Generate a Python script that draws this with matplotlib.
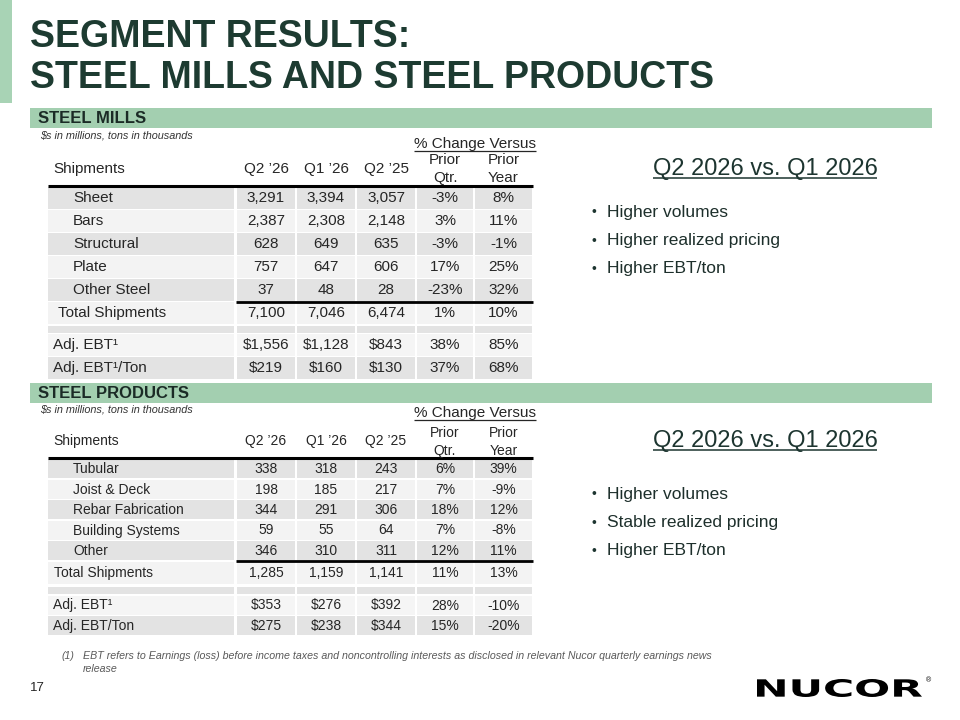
import matplotlib.pyplot as plt
from matplotlib.patches import Rectangle, PathPatch
from matplotlib.textpath import TextPath
from matplotlib.font_manager import FontProperties
from matplotlib.transforms import Affine2D

plt.rcParams['font.family'] = ['Liberation Sans', 'DejaVu Sans']

# ---- data ----
title_lines = ["SEGMENT RESULTS:", "STEEL MILLS AND STEEL PRODUCTS"]
units_note = "$s in millions, tons in thousands"
col_headers = ["Q2 \u201926", "Q1 \u201926", "Q2 \u201925"]
change_top = ["Prior", "Prior"]
change_bottom = ["Qtr.", "Year"]
compare_title = "Q2 2026 vs. Q1 2026"

mills_rows = ["Sheet", "Bars", "Structural", "Plate", "Other Steel"]
mills_q2_26 = [3291, 2387, 628, 757, 37]
mills_q1_26 = [3394, 2308, 649, 647, 48]
mills_q2_25 = [3057, 2148, 635, 606, 28]
mills_vs_qtr = [-3, 3, -3, 17, -23]
mills_vs_year = [8, 11, -1, 25, 32]
mills_total = [7100, 7046, 6474]
mills_total_chg = [1, 10]
mills_ebt = [1556, 1128, 843]
mills_ebt_chg = [38, 85]
mills_ebt_ton = [219, 160, 130]
mills_ebt_ton_chg = [37, 68]
mills_bullets = ["Higher volumes", "Higher realized pricing", "Higher EBT/ton"]

prod_rows = ["Tubular", "Joist & Deck", "Rebar Fabrication", "Building Systems", "Other"]
prod_q2_26 = [338, 198, 344, 59, 346]
prod_q1_26 = [318, 185, 291, 55, 310]
prod_q2_25 = [243, 217, 306, 64, 311]
prod_vs_qtr = [6, 7, 18, 7, 12]
prod_vs_year = [39, -9, 12, -8, 11]
prod_total = [1285, 1159, 1141]
prod_total_chg = [11, 13]
prod_ebt = [353, 276, 392]
prod_ebt_chg = [28, -10]
prod_ebt_ton = [275, 238, 344]
prod_ebt_ton_chg = [15, -20]
prod_bullets = ["Higher volumes", "Stable realized pricing", "Higher EBT/ton"]

footnote = ("EBT refers to Earnings (loss) before income taxes and noncontrolling "
            "interests as disclosed in relevant Nucor quarterly earnings news")

# ---- styles ----
GREEN = '#a3cfb0'
DARK = '#1d3b31'
TXT = '#262626'
GRAY = '#e3e3e3'
LIGHT = '#f3f3f3'

fig = plt.figure(figsize=(9.6, 7.2), dpi=100)
ax = fig.add_axes([0, 0, 1, 1])
ax.set_xlim(0, 960)
ax.set_ylim(720, 0)
ax.axis('off')
renderer = fig.canvas.get_renderer()


def underline(t, dy, color, lw=1.0):
    bb = t.get_window_extent(renderer)
    inv = ax.transData.inverted()
    (x0, _), (x1, _) = inv.transform([[bb.x0, bb.y0], [bb.x1, bb.y1]])
    ax.plot([x0, x1], [t.get_position()[1] + dy] * 2, color=color, lw=lw,
            solid_capstyle='butt')


# slide header
ax.add_patch(Rectangle((0, 0), 12, 103, color='#a8d3b5', lw=0))
for i, line in enumerate(title_lines):
    ax.text(30, 37 + i * 41, line, fontsize=27, fontweight='bold',
            color=DARK, va='center', ha='left')

label_l, label_r = 48, 234
col_edges = [236, 296, 356, 416, 474, 533]


def pct(v):
    return f"{v}%"


def draw_section(name, band_top, hdr_line, pitch, fs, rows, q2_26, q1_26, q2_25,
                 vs_qtr, vs_year, total, total_chg, ebt, ebt_chg, ebt_ton,
                 ebt_ton_chg, ebt_ton_label, bullets, total_h, gap_after_total,
                 hdr_off, total_x, bullet_y0):
    # green band
    ax.add_patch(Rectangle((30, band_top), 902, 20, color=GREEN, lw=0))
    ax.text(38, band_top + 10.5, name, fontsize=12, fontweight='bold',
            color='#1b2b26', va='center')
    ax.text(40, band_top + 27, units_note, fontsize=7.8, style='italic',
            color='#333333', va='center')

    # header
    t = ax.text((col_edges[3] + col_edges[5]) / 2, hdr_line - hdr_off[0], "% Change Versus",
                fontsize=11, color=TXT, ha='center', va='baseline')
    underline(t, 3, TXT, 0.9)
    ax.text(53, hdr_line - 17, "Shipments", fontsize=fs, color=TXT, va='center')
    for j, h in enumerate(col_headers):
        ax.text((col_edges[j] + col_edges[j + 1]) / 2, hdr_line - 17, h,
                fontsize=fs, color=TXT, ha='center', va='center')
    for j in range(2):
        cx = (col_edges[j + 3] + col_edges[j + 4]) / 2
        ax.text(cx, hdr_line - hdr_off[1], change_top[j], fontsize=fs, color=TXT,
                ha='center', va='center')
        ax.text(cx, hdr_line - hdr_off[2], change_bottom[j], fontsize=fs, color=TXT,
                ha='center', va='center')

    # rows
    table = []
    for i, r in enumerate(rows):
        table.append((r, 73, [f"{q2_26[i]:,}", f"{q1_26[i]:,}", f"{q2_25[i]:,}",
                              pct(vs_qtr[i]), pct(vs_year[i])],
                      GRAY if i % 2 == 0 else LIGHT, pitch))
    table.append(("Total Shipments", total_x, [f"{v:,}" for v in total] +
                  [pct(v) for v in total_chg], LIGHT, total_h))
    table.append(("", 53, [""] * 5, GRAY, 7 + gap_after_total))
    table.append(("Adj. EBT\u00b9", 53, [f"${v:,}" for v in ebt] +
                  [pct(v) for v in ebt_chg], '#f5f5f5', pitch))
    table.append((ebt_ton_label, 53, [f"${v:,}" for v in ebt_ton] +
                  [pct(v) for v in ebt_ton_chg], GRAY, pitch))

    y = hdr_line + 1
    for k, (lab, lx, vals, fill, h) in enumerate(table):
        cell_h = h - 1.5
        if lab == "":
            y += 1
            cell_h = 7
        ax.add_patch(Rectangle((label_l, y), label_r - label_l, cell_h, color=fill, lw=0))
        for j in range(5):
            ax.add_patch(Rectangle((col_edges[j] + 1, y), col_edges[j + 1] - col_edges[j] - 2,
                                   cell_h, color=fill, lw=0))
        cy = y + cell_h / 2 + 0.5
        if lab:
            ax.text(lx, cy, lab, fontsize=fs, color=TXT, va='center')
        for j, v in enumerate(vals):
            ax.text((col_edges[j] + col_edges[j + 1]) / 2, cy, v, fontsize=fs,
                    color=TXT, ha='center', va='center')
        if k == len(rows) - 1:
            ax.plot([col_edges[0], col_edges[5]], [y + h - 0.5] * 2, color='black',
                    lw=2, solid_capstyle='butt')
        y += h
    ax.plot([label_l, col_edges[5]], [hdr_line] * 2, color='black', lw=2.2,
            solid_capstyle='butt')

    # commentary
    t = ax.text(765, hdr_line - 11, compare_title, fontsize=17, color='#1d3530',
                ha='center', va='baseline')
    underline(t, 3, '#1d3530', 1.1)
    for i, b in enumerate(bullets):
        by = hdr_line + bullet_y0 + i * 28.5
        ax.text(591, by, "\u2022", fontsize=10, color='#1d3530', va='center')
        ax.text(607, by, b, fontsize=12.5, color='#1d2f2b', va='center')


draw_section("STEEL MILLS", 108, 186, 23, 11, mills_rows, mills_q2_26, mills_q1_26,
             mills_q2_25, mills_vs_qtr, mills_vs_year, mills_total, mills_total_chg,
             mills_ebt, mills_ebt_chg, mills_ebt_ton, mills_ebt_ton_chg,
             "Adj. EBT\u00b9/Ton", mills_bullets, 23, 1,
             (38, 26, 8), 58, 26)
draw_section("STEEL PRODUCTS", 383, 458, 20.5, 10, prod_rows, prod_q2_26, prod_q1_26,
             prod_q2_25, prod_vs_qtr, prod_vs_year, prod_total, prod_total_chg,
             prod_ebt, prod_ebt_chg, prod_ebt_ton, prod_ebt_ton_chg,
             "Adj. EBT/Ton", prod_bullets, 24, 2,
             (41, 25, 7), 54, 36)

# footnote and page number
ax.text(62, 656, "(1)", fontsize=7.6, style='italic', color='#595959', va='center')
ax.text(83, 656, footnote, fontsize=7.65, style='italic', color='#595959', va='center')
ax.text(83, 669, "release", fontsize=7.65, style='italic', color='#595959', va='center')
ax.text(30, 688, "17", fontsize=9.5, color=TXT, va='center')

# logo
tp = TextPath((0, 0), "NUCOR", size=20, prop=FontProperties(family='DejaVu Sans', weight='bold'))
ext = tp.get_extents()
tr = (Affine2D().translate(-ext.x0, -ext.y0)
      .scale(165 / ext.width, -18 / ext.height).translate(757, 697))
ax.add_patch(PathPatch(tr.transform_path(tp), color='black', lw=0))
ax.text(928, 681, "\u00ae", fontsize=5, color='black', ha='center', va='center')

fig.savefig("out.png", dpi=100)
